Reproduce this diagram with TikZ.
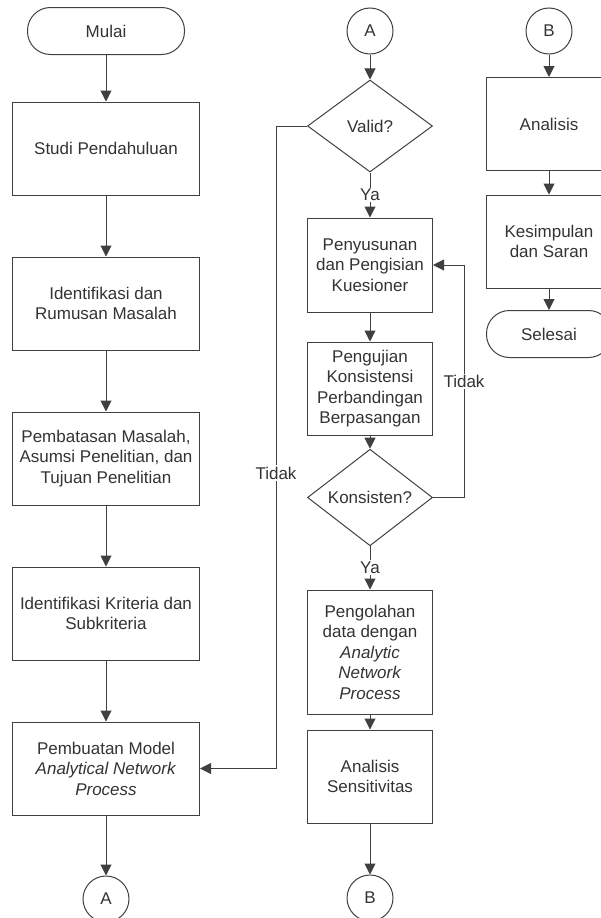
\documentclass[tikz,border=0pt]{standalone}
\usepackage{fontspec}
\setmainfont{Liberation Sans}
\usetikzlibrary{arrows.meta,shapes.geometric}
\definecolor{ln}{HTML}{404040}
\definecolor{tx}{HTML}{333333}
\tikzset{
  every node/.style={font=\fontsize{17}{20.5}\selectfont, text=tx},
  box/.style={draw=ln, line width=1pt, rectangle, inner sep=0pt, align=center},
  bigbox/.style={box, minimum width=187pt, minimum height=93pt},
  midbox/.style={box, minimum width=125pt, minimum height=93pt},
  term/.style={draw=ln, line width=1pt, rectangle, rounded corners=23pt, inner sep=0pt, minimum height=47pt},
  conn/.style={draw=ln, line width=1pt, circle, inner sep=0pt, minimum size=46pt},
  dec/.style={draw=ln, line width=1pt, diamond, inner sep=0pt, minimum width=125pt, minimum height=92pt},
  arr/.style={draw=ln, line width=1pt, -{Triangle[width=11pt,length=11pt]}},
  lbl/.style={fill=white, inner sep=1.5pt}
}
\begin{document}
\begin{tikzpicture}[x=1pt,y=-1pt]
\useasboundingbox (0,0) rectangle (600,918);
% left column
\node[term, minimum width=157pt] (mulai) at (106,31) {Mulai};
\node[bigbox] (studi) at (106,148.5) {Studi Pendahuluan};
\node[bigbox] (ident) at (106,303.5) {Identifikasi dan\\Rumusan Masalah};
\node[bigbox] (batas) at (106,458.5) {Pembatasan Masalah,\\Asumsi Penelitian, dan\\Tujuan Penelitian};
\node[bigbox] (krit) at (106,613.5) {Identifikasi Kriteria dan\\Subkriteria};
\node[bigbox] (model) at (106,768.5) {Pembuatan Model\\\textit{Analytical Network}\\\textit{Process}};
\node[conn] (aout) at (106,899) {A};
% middle column
\node[conn] (ain) at (370,31) {A};
\node[dec] (valid) at (370,126) {Valid?};
\node[midbox, minimum height=94pt] (susun) at (370,265) {Penyusunan\\dan Pengisian\\Kuesioner};
\node[midbox] (uji) at (370,388.5) {Pengujian\\Konsistensi\\Perbandingan\\Berpasangan};
\node[dec, minimum height=91pt] (kons) at (370,497.5) {Konsisten?};
\node[midbox, minimum height=124pt] (olah) at (370,652) {Pengolahan\\data dengan\\\textit{Analytic}\\\textit{Network}\\\textit{Process}};
\node[midbox] (sens) at (370,776.5) {Analisis\\Sensitivitas};
\node[conn] (bout) at (370,898) {B};
% right column
\node[conn] (bin) at (549,31) {B};
\node[midbox] (anal) at (549,124) {Analisis};
\node[midbox] (simp) at (549,241.5) {Kesimpulan\\dan Saran};
\node[term, minimum width=125pt] (selesai) at (549,334) {Selesai};
% connectors
\draw[arr] (mulai) -- (studi);
\draw[arr] (studi) -- (ident);
\draw[arr] (ident) -- (batas);
\draw[arr] (batas) -- (krit);
\draw[arr] (krit) -- (model);
\draw[arr] (model) -- (aout);
\draw[arr] (ain) -- (valid);
\draw[arr] (valid) -- node[lbl] {Ya} (susun);
\draw[arr] (susun) -- (uji);
\draw[arr] (uji) -- (kons);
\draw[arr] (kons) -- node[lbl] {Ya} (olah);
\draw[arr] (olah) -- (sens);
\draw[arr] (sens) -- (bout);
\draw[arr] (valid.west) -- ++(-31,0) |- node[lbl, pos=0.27] {Tidak} (model.east);
\draw[arr] (kons.east) -- ++(31,0) |- node[lbl, pos=0.25] {Tidak} (susun.east);
\draw[arr] (bin) -- (anal);
\draw[arr] (anal) -- (simp);
\draw[arr] (simp) -- (selesai);
\end{tikzpicture}
\end{document}
